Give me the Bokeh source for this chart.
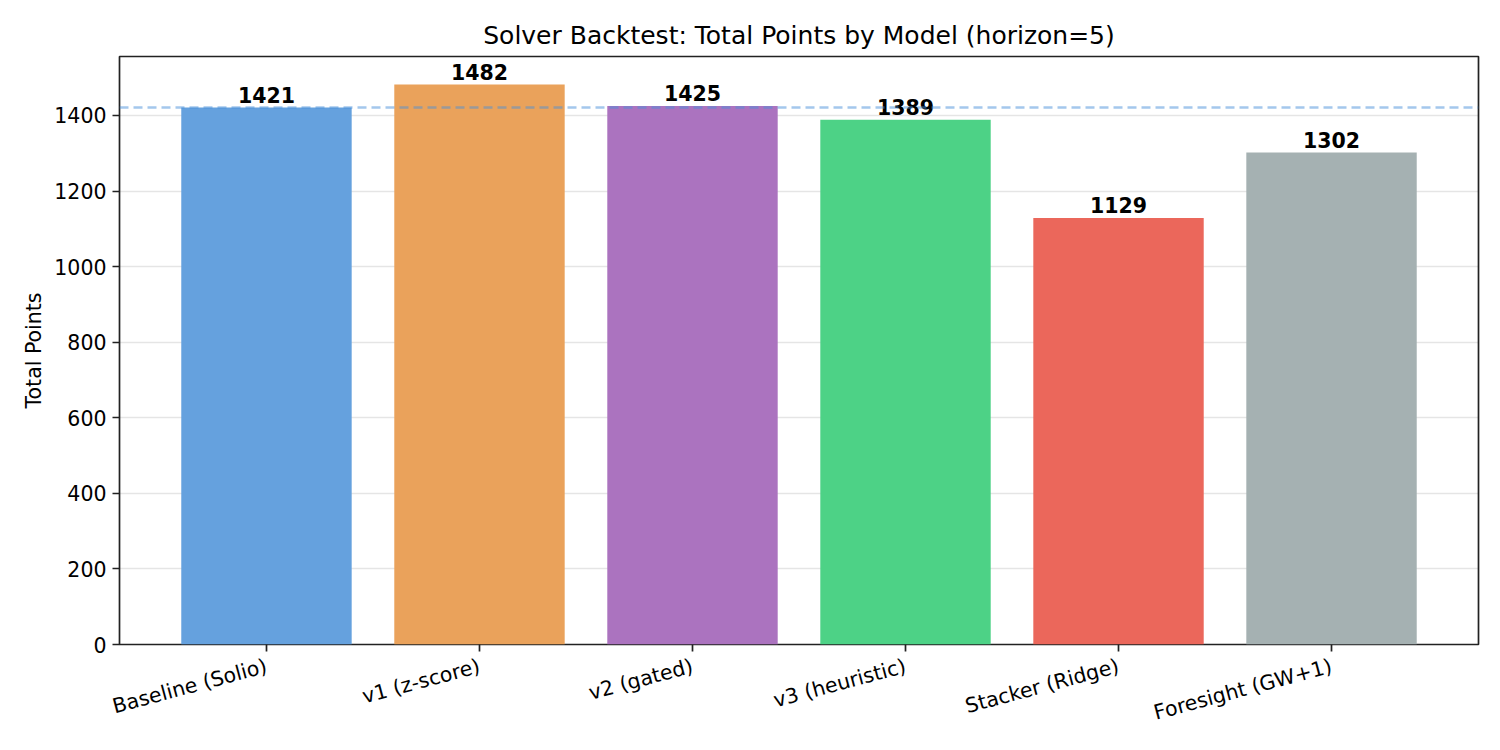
from bokeh.plotting import figure
from bokeh.models import Range1d, FixedTicker, ColumnDataSource, Span
from bokeh.embed import file_html
from bokeh.resources import INLINE
from bokeh.core.properties import value
import math

models = ["Baseline (Solio)", "v1 (z-score)", "v2 (gated)", "v3 (heuristic)", "Stacker (Ridge)", "Foresight (GW+1)"]
points = [1421, 1482, 1425, 1389, 1129, 1302]
colors = ["#65a1de", "#eaa25b", "#ab73bf", "#4dd286", "#eb675b", "#a5b1b2"]
baseline = 1421
y_ticks = [0, 200, 400, 600, 800, 1000, 1200, 1400]

FONT = "DejaVu Sans"

xs = list(range(len(models)))
src = ColumnDataSource(dict(x=xs, top=points, color=colors, label=[str(v) for v in points]))

p = figure(width=1484, height=742, output_backend="svg", toolbar_location=None,
           x_range=Range1d(-0.69, len(models) - 1 + 0.69),
           y_range=Range1d(0, max(points) * 1.05),
           title="Solver Backtest: Total Points by Model (horizon=5)",
           min_border_left=119, min_border_right=6, min_border_top=56, min_border_bottom=98)

p.title.align = "center"
p.title.text_font = FONT
p.title.text_font_style = "normal"
p.title.text_font_size = "25px"
p.title.text_color = "#000000"
p.title.standoff = 13

p.vbar(x="x", top="top", width=0.8, bottom=0, fill_color="color", line_color=None, source=src)

p.add_layout(Span(location=baseline, dimension="width", line_color="#4a90d9", line_alpha=0.5,
                  line_width=2.5, line_dash="9 5"))

p.text(x="x", y="top", text="label", source=src, text_align="center", text_baseline="bottom",
       y_offset=-5, text_font=value(FONT), text_font_style="bold", text_font_size="20.5px",
       text_color="#000000")

p.xaxis.ticker = FixedTicker(ticks=xs)
p.xaxis.major_label_overrides = {i: m for i, m in enumerate(models)}
p.xaxis.major_label_orientation = math.radians(15)
p.xaxis.major_label_standoff = 14
p.yaxis.major_label_standoff = 6
p.yaxis.ticker = FixedTicker(ticks=y_ticks)
p.yaxis.axis_label = "Total Points"

for ax in (p.xaxis, p.yaxis):
    ax.major_label_text_font = FONT
    ax.major_label_text_font_size = "20.5px"
    ax.major_label_text_color = "#000000"
    ax.axis_line_color = None
    ax.major_tick_line_color = "#222222"
    ax.major_tick_line_width = 1.7
    ax.major_tick_out = 7
    ax.major_tick_in = 0
    ax.minor_tick_line_color = None
    ax.axis_label_text_font = FONT
    ax.axis_label_text_font_size = "20.5px"
    ax.axis_label_text_font_style = "normal"
    ax.axis_label_text_color = "#000000"

p.xgrid.grid_line_color = None
p.ygrid.grid_line_color = "#000000"
p.ygrid.grid_line_alpha = 0.1
p.ygrid.grid_line_width = 1.5
p.ygrid.ticker = FixedTicker(ticks=y_ticks)

p.outline_line_color = "#222222"
p.outline_line_width = 1.7
p.background_fill_color = "#ffffff"
p.border_fill_color = "#ffffff"

open("out.html", "w").write(file_html(p, INLINE))
